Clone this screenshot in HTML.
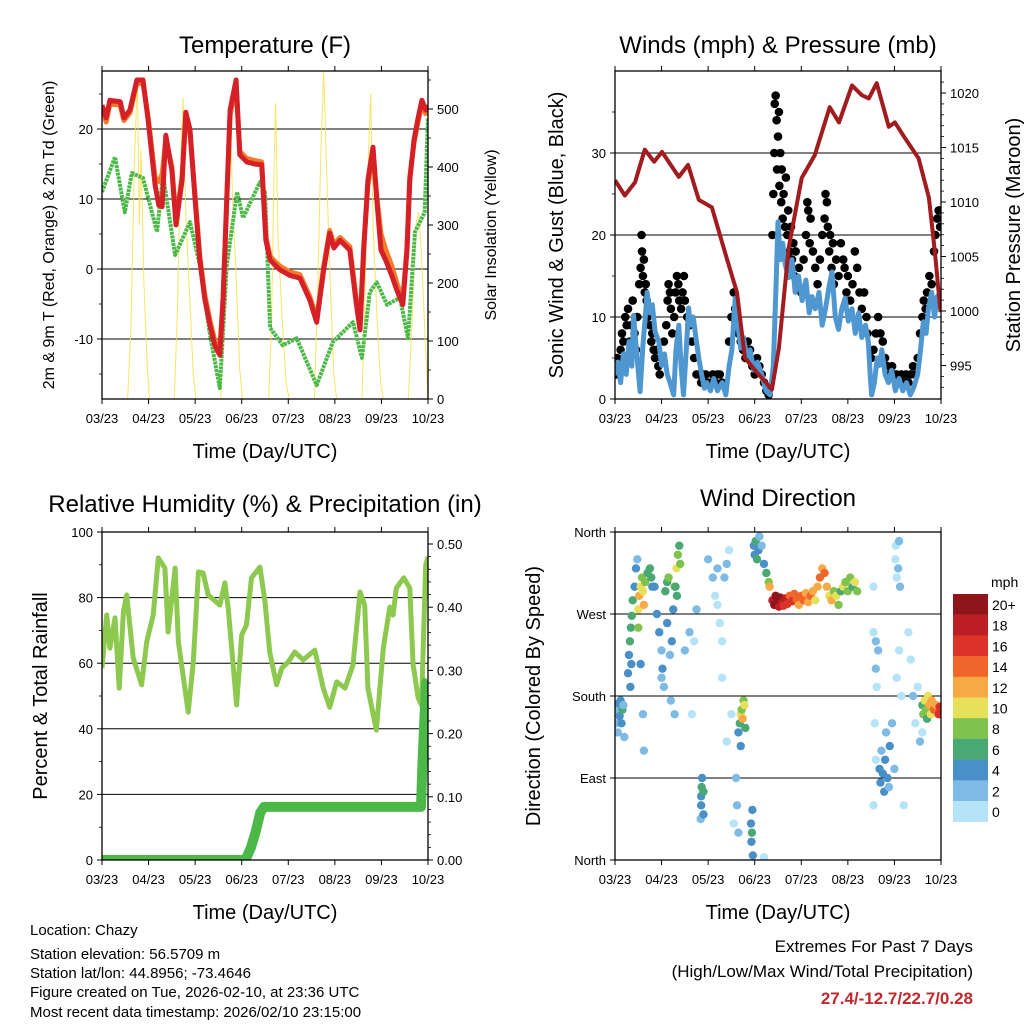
<!DOCTYPE html>
<html><head><meta charset="utf-8"><style>
html,body{margin:0;padding:0;background:#fff;}
svg{display:block;font-family:"Liberation Sans",sans-serif;}
</style></head><body>
<svg id="root" width="1024" height="1024" viewBox="0 0 1024 1024" xmlns="http://www.w3.org/2000/svg">
<rect x="0" y="0" width="1024" height="1024" fill="#fff"/>
<g font-size="24" text-anchor="middle" fill="#000">
<text x="265" y="53">Temperature (F)</text>
<text x="778" y="53">Winds (mph) &amp; Pressure (mb)</text>
<text x="265" y="512">Relative Humidity (%) &amp; Precipitation (in)</text>
<text x="778" y="506">Wind Direction</text>
</g>
<g font-size="20" text-anchor="middle" fill="#000">
<text x="265" y="458">Time (Day/UTC)</text>
<text x="778" y="458">Time (Day/UTC)</text>
<text x="265" y="919">Time (Day/UTC)</text>
<text x="778" y="919">Time (Day/UTC)</text>
<text transform="translate(54,235) rotate(-90)" font-size="16">2m &amp; 9m T (Red, Orange) &amp; 2m Td (Green)</text>
<text transform="translate(496,235) rotate(-90)" font-size="16">Solar Insolation (Yellow)</text>
<text transform="translate(563,235) rotate(-90)">Sonic Wind &amp; Gust (Blue, Black)</text>
<text transform="translate(1020,235) rotate(-90)">Station Pressure (Maroon)</text>
<text transform="translate(47,696) rotate(-90)">Percent &amp; Total Rainfall</text>
<text transform="translate(540,696) rotate(-90)">Direction (Colored By Speed)</text>
</g>
<g font-size="15" fill="#000">
<text x="30" y="935">Location: Chazy</text>
<text x="30" y="959">Station elevation: 56.5709 m</text>
<text x="30" y="978">Station lat/lon: 44.8956; -73.4646</text>
<text x="30" y="997">Figure created on Tue, 2026-02-10, at 23:36 UTC</text>
<text x="30" y="1017">Most recent data timestamp: 2026/02/10 23:15:00</text>
</g>
<g font-size="17" text-anchor="end" fill="#000">
<text x="973" y="952">Extremes For Past 7 Days</text>
<text x="973" y="977">(High/Low/Max Wind/Total Precipitation)</text>
<text x="973" y="1004" fill="#c0282d" font-weight="bold">27.4/-12.7/22.7/0.28</text>
</g>
</svg>
<script>
// ---------- DATA ----------
const xLabels = ["03/23","04/23","05/23","06/23","07/23","08/23","09/23","10/23"];
const tempT = [0,.09,.17,.39,.47,.60,.75,.88,.99,1.14,1.22,1.29,1.37,1.50,1.59,1.72,1.80,1.89,2.00,2.10,2.21,2.32,2.42,2.53,2.60,2.68,2.75,2.88,2.96,3.11,3.28,3.43,3.52,3.61,3.71,3.82,4.03,4.25,4.46,4.61,4.76,4.89,4.98,5.11,5.32,5.45,5.54,5.62,5.71,5.82,5.90,5.99,6.09,6.22,6.33,6.46,6.55,6.61,6.70,6.78,6.87,6.95,7.0];
const tempRed = [23.4,21.6,24.1,23.9,21.6,22.7,27.0,27.0,21.3,12.0,9.1,8.9,19.1,14.1,6.3,12.7,22.4,19.9,9.9,1.3,-4.4,-8.0,-10.9,-12.3,-4.4,9.9,22.7,27.0,16.3,15.3,15.0,14.9,4.1,1.3,0.6,-0.1,-0.9,-1.3,-4.4,-7.6,-0.1,5.1,3.0,4.1,2.7,-4.4,-8.7,2.7,12.7,17.4,9.9,2.7,1.3,-0.9,-3.0,-5.1,2.7,12.7,18.4,21.3,24.1,22.7,23.4];
const tempOrange = [23.0,21.0,23.6,23.4,21.2,22.3,26.5,26.5,21.8,13.0,12.5,13.5,18.5,14.6,7.0,13.3,21.8,19.3,10.5,1.8,-3.8,-7.4,-10.2,-11.6,-4.0,10.4,22.0,26.2,16.8,15.8,15.5,15.3,4.6,1.8,1.1,0.4,-0.4,-0.8,-3.9,-7.0,0.4,5.5,3.5,4.5,3.2,-3.8,-8.0,3.2,12.0,16.5,10.4,5.0,2.8,0.5,-2.0,-4.4,3.2,13.2,18.0,20.8,23.5,22.2,22.8];
const dewT = [0,.28,.49,.64,.88,1.18,1.31,1.57,1.89,2.10,2.32,2.53,2.68,2.90,3.03,3.39,3.50,3.61,3.88,4.18,4.61,4.96,5.39,5.58,5.75,5.90,6.12,6.40,6.57,6.72,6.93,7.0];
const dewV = [11.0,16.0,8.1,13.7,13.0,5.3,13.4,2.0,6.7,0.6,-9.4,-17.0,0.6,11.0,7.3,12.4,11.0,-8.4,-10.9,-9.9,-16.6,-10.4,-7.6,-12.7,-3.3,-1.9,-5.1,-4.1,-9.9,5.3,8.1,21.6];
const solarT = [0,.55,.62,.70,.76,.80,.84,.90,.97,1.02,1.55,1.62,1.68,1.74,1.80,1.88,1.96,2.02,2.55,2.62,2.70,2.75,2.80,2.88,2.96,3.02,3.58,3.64,3.70,3.73,3.78,3.86,3.95,4.02,4.56,4.63,4.70,4.76,4.82,4.90,4.98,5.04,5.58,5.64,5.72,5.77,5.82,5.90,5.98,6.04,6.58,6.65,6.74,6.80,6.86,6.93,7.0];
const solarV = [0,0,120,420,555,300,430,200,60,0,0,150,380,520,320,180,40,0,0,140,400,524,350,210,50,0,0,130,420,510,280,150,30,0,0,180,430,564,400,200,40,0,0,160,420,526,300,150,30,0,0,120,300,322,250,120,0];
const presT = [0,.21,.43,.64,.84,1.01,1.37,1.57,1.80,2.08,2.36,2.62,2.79,3.00,3.37,3.52,3.73,4.01,4.29,4.61,4.81,5.09,5.30,5.45,5.62,5.88,6.01,6.22,6.52,6.74,6.87,6.99];
const presV = [1012.0,1010.6,1011.8,1014.8,1013.7,1014.6,1012.3,1013.4,1010.2,1009.5,1005.4,1001.7,995.7,994.6,992.8,996.6,1005.8,1012.2,1014.3,1018.7,1017.3,1020.7,1019.8,1019.5,1020.9,1016.9,1017.3,1015.9,1014.0,1010.4,1005.4,999.9];
const windT = [0,.06,.12,.18,.24,.30,.36,.40,.46,.54,.60,.65,.69,.75,.80,.86,.94,1.00,1.06,1.12,1.18,1.26,1.31,1.37,1.42,1.47,1.53,1.58,1.62,1.68,1.74,1.80,1.86,1.92,1.97,2.05,2.12,2.20,2.30,2.38,2.45,2.51,2.58,2.64,2.70,2.76,2.83,2.90,2.98,3.06,3.15,3.24,3.33,3.40,3.46,3.50,3.55,3.60,3.66,3.73,3.80,3.87,3.94,4.02,4.10,4.17,4.23,4.30,4.38,4.45,4.52,4.59,4.66,4.73,4.80,4.87,4.94,5.01,5.09,5.16,5.23,5.30,5.38,5.44,5.48,5.51,5.57,5.63,5.68,5.73,5.80,5.87,5.94,6.02,6.10,6.18,6.26,6.34,6.42,6.50,6.56,6.62,6.68,6.73,6.80,6.86,6.92,6.99];
const windV = [2.9,4.5,2.0,5.5,3.0,7.0,4.0,10.2,6.0,0.9,6.5,10.0,13.0,10.5,11.5,8.2,7.0,4.1,5.5,3.0,2.0,0.5,6.0,9.0,4.0,0.5,6.0,11.1,9.0,10.0,7.4,5.0,3.0,1.3,2.0,1.0,2.5,1.0,2.0,0.5,4.0,6.0,12.3,9.0,6.2,7.5,5.0,6.0,3.5,4.5,3.0,1.0,0.5,4.0,14.0,21.6,17.0,19.0,16.3,14.8,17.0,13.0,15.0,12.0,14.5,10.5,12.5,11.0,13.0,9.0,11.0,13.5,15.5,10.0,8.5,11.0,12.3,9.5,11.0,8.0,10.5,7.5,9.0,7.0,3.0,0.5,2.0,5.0,4.1,6.0,3.0,2.0,3.5,1.0,2.5,1.0,2.0,0.5,1.5,3.0,6.0,9.4,8.0,11.0,13.0,10.0,12.5,13.0];
const gustT = [0.02,0.05,0.08,0.12,0.15,0.18,0.22,0.25,0.28,0.32,0.35,0.38,0.42,0.45,0.48,0.52,0.55,0.57,0.58,0.6,0.62,0.64,0.66,0.68,0.7,0.72,0.75,0.78,0.8,0.83,0.86,0.9,0.93,0.96,1.0,1.05,1.1,1.13,1.15,1.18,1.2,1.23,1.27,1.3,1.33,1.36,1.38,1.42,1.45,1.48,1.5,1.55,1.6,1.65,1.7,1.75,1.8,1.85,1.9,1.95,1.98,2.05,2.1,2.15,2.2,2.25,2.3,2.45,2.5,2.55,2.58,2.62,2.65,2.7,2.75,2.8,2.85,2.9,2.95,3.0,3.05,3.1,3.15,3.2,3.25,3.3,3.38,3.4,3.42,3.43,3.45,3.47,3.48,3.5,3.52,3.53,3.55,3.57,3.58,3.6,3.62,3.65,3.67,3.7,3.72,3.75,3.78,3.8,3.83,3.85,3.88,3.92,3.95,4.0,4.05,4.1,4.13,4.15,4.18,4.2,4.25,4.3,4.35,4.4,4.45,4.5,4.52,4.55,4.57,4.6,4.62,4.65,4.68,4.7,4.75,4.8,4.85,4.9,4.93,4.97,5.0,5.05,5.1,5.15,5.2,5.25,5.3,5.35,5.4,5.42,5.5,5.55,5.6,5.65,5.7,5.75,5.8,5.85,5.9,5.95,6.0,6.05,6.1,6.15,6.2,6.25,6.3,6.35,6.4,6.45,6.5,6.55,6.6,6.63,6.67,6.7,6.75,6.8,6.85,6.88,6.92,6.95,6.98];
const gustV = [3,5,4,6,8,7,10,9,11,7,9,12,8,6,10,14,16,20,18,15,17,13,14,12,10,11,9,7,8,6,5,6,4,3,5,7,9,12,14,13,11,8,10,13,15,14,12,11,13,15,12,10,9,7,5,3,3,2,3,3,2,2,3,2,3,3,2,7,10,13,11,9,8,7,6,5,7,6,4,3,5,4,3,2,1,0.5,20,25,30,36,37,34,28,32,35,26,30,24,28,22,25,21,27,20,23,18,21,17,19,15,18,14,16,13,17,20,24,23,19,22,18,16,14,17,20,22,25,24,21,18,20,16,19,14,17,15,19,17,16,13,15,12,14,18,16,13,11,13,10,8,5,6,8,10,8,7,5,4,3,4,3,3,2,3,2,3,2,3,4,3,5,8,10,12,11,13,15,14,18,20,22,23,21];
const rhT = [0,.10,.17,.28,.37,.46,.53,.67,.85,.96,1.10,1.21,1.35,1.42,1.57,1.64,1.85,1.96,2.07,2.17,2.28,2.53,2.64,2.71,2.89,3.00,3.10,3.21,3.39,3.50,3.60,3.75,3.86,4.00,4.14,4.32,4.57,4.75,4.89,5.04,5.22,5.39,5.54,5.64,5.71,5.89,6.04,6.18,6.25,6.32,6.48,6.61,6.68,6.79,6.86,6.95,7.0];
const rhV = [58.5,74.7,64.6,73.8,52.4,75.6,80.8,61.6,53.4,66.5,74.7,92.1,89.0,69.5,89.0,66.5,45.1,60.4,87.8,87.5,80.8,77.7,84.5,76.8,47.3,68.6,71.6,86.0,89.3,78.7,63.4,53.4,58.5,60.4,63.4,61.0,64.0,52.4,46.6,54.3,52.4,59.5,81.7,77.7,52.4,39.6,64.6,77.1,74.7,82.9,86.0,82.9,59.5,49.4,47.3,89.9,92.4];
const precT = [0,3.08,3.2,3.3,3.4,3.48,6.85,6.88,6.92,6.96,7.0];
const precV = [0,0,0.02,0.045,0.075,0.084,0.084,0.15,0.22,0.28,0.285];
const dirT = [0.02,0.04,0.06,0.08,0.1,0.12,0.14,0.16,0.18,0.2,0.28,0.3,0.32,0.34,0.36,0.38,0.35,0.33,0.42,0.45,0.5,0.52,0.55,0.58,0.6,0.62,0.65,0.7,0.75,0.78,0.8,0.55,0.6,0.62,0.5,0.48,0.85,0.9,0.95,1.0,1.02,1.05,1.0,1.08,1.12,1.15,1.12,1.18,1.22,1.25,1.28,1.32,1.3,1.35,1.38,1.4,1.33,1.28,1.2,1.5,1.6,1.7,1.75,1.65,1.85,1.86,1.87,1.85,1.84,1.9,1.9,2.0,2.1,2.15,2.2,2.25,2.3,2.35,2.4,2.45,2.2,2.3,2.5,2.4,2.55,2.6,2.65,2.68,2.7,2.72,2.74,2.76,2.78,2.8,2.7,2.62,2.65,2.92,2.93,2.94,2.95,2.96,2.98,3.0,3.02,3.05,3.08,3.1,3.15,3.2,3.25,3.3,3.32,3.2,3.38,3.42,3.45,3.48,3.52,3.55,3.58,3.62,3.65,3.7,3.75,3.8,3.85,3.9,3.95,4.0,4.05,4.1,4.15,4.2,4.25,4.3,4.35,4.4,4.45,4.5,4.55,4.6,4.65,4.7,4.75,4.8,4.85,4.9,4.95,5.0,5.05,5.1,5.15,5.2,5.55,5.55,5.6,5.62,5.6,5.65,5.58,5.6,5.55,5.68,5.7,5.72,5.75,5.78,5.8,5.82,5.85,5.88,5.9,5.95,6.0,6.02,6.03,6.05,6.08,6.1,6.12,6.05,6.1,6.15,6.2,6.3,6.35,6.4,6.45,6.5,6.55,6.6,6.62,6.65,6.68,6.7,6.72,6.75,6.78,6.8,6.85,6.9,6.95,6.97,6.6];
const dirV = [150,165,140,172,158,175,150,165,170,135,205,225,240,255,268,285,215,190,300,320,275,290,300,310,295,280,305,315,320,310,300,215,160,120,255,330,300,270,250,230,210,190,200,295,305,310,260,225,240,275,300,320,300,335,345,325,290,160,175,230,250,240,275,160,70,80,90,60,45,50,75,330,310,290,280,260,240,310,325,340,320,200,160,130,40,90,140,150,160,165,155,175,170,145,125,60,30,40,20,30,55,5,345,335,350,330,340,355,345,325,315,305,300,3,285,280,290,283,278,288,282,279,287,281,290,284,292,286,280,290,285,293,283,290,295,285,300,310,320,315,300,290,285,295,290,280,295,300,305,295,310,300,305,295,250,300,210,190,240,230,150,110,60,100,85,120,95,75,110,140,90,80,125,150,100,330,345,310,320,350,300,200,230,180,60,250,220,180,150,190,130,170,160,175,165,155,180,170,160,175,165,170,160,168,140];
const dirS = [3,2,3,4,4,5,4,6,3,2,5,4,6,7,6,7,4,4,5,4,10,12,11,9,10,13,8,7,6,7,5,4,3,2,9,2,4,4,4,3,4,3,2,7,6,8,4,3,4,5,9,10,7,8,6,9,6,3,2,3,2,1,2,1,5,6,4,4,3,4,6,2,2,1,0,1,1,2,2,1,3,1,1,1,1,2,5,7,10,9,12,8,10,7,5,3,2,5,4,6,4,4,4,5,6,6,5,2,2,5,6,9,12,1,18,20,21,20,19,20,18,17,19,16,15,16,15,14,13,15,14,13,12,14,12,11,13,14,12,15,13,11,12,9,10,8,7,10,9,8,9,7,10,8,1,1,2,1,3,2,1,1,1,4,4,3,5,4,4,3,4,3,4,3,2,1,1,1,2,2,2,1,1,1,1,1,1,2,1,1,2,6,8,10,9,7,11,12,10,13,14,12,16,17,1];
const cbLabels = ["20+","18","16","14","12","10","8","6","4","2","0"];
const cbColors = ["#8e1519","#bb1e24","#dc3328","#f06529","#f7a945","#e6e05a","#7fc24e","#4aa874","#4a90c8","#7dbbe5","#b5e3f7"];

// ---------- HELPERS ----------
const NS = "http://www.w3.org/2000/svg";
const root = document.getElementById("root");
function mk(tag, attrs, parent) {
  const e = document.createElementNS(NS, tag);
  for (const k in attrs) e.setAttribute(k, attrs[k]);
  (parent || root).appendChild(e);
  return e;
}
const DW = 46.57;
function xsL(d){ return 102 + d*DW; }
function xsR(d){ return 615 + d*DW; }
const yTemp = v => 269 - 7*v;
const ySolar = v => 399 - 0.58*v;
const yWind = v => 399 - 8.2*v;
const yPres = p => 311 - 10.9*(p-1000);
const yRh = v => 860 - 3.28*v;
const yPrec = v => 860 - 632*v;
const yDir = v => 860 - v*328/360;

function pts(ts, vs, xs, ys){ return ts.map((t,i)=>xs(t).toFixed(1)+","+ys(vs[i]).toFixed(1)).join(" "); }

function panel(name, x0, y0, xs) {
  const g = mk("g", {});
  
  
  const clip = mk("clipPath", {id: name+"-clip"}, g);
  mk("rect", {x:x0, y:y0, width:326, height:328}, clip);
  xLabels.forEach((lab,i)=>{
    const x = xs(i);
    mk("line",{x1:x,y1:y0+328,x2:x,y2:y0+333,stroke:"#000","stroke-width":1},g);
    mk("line",{x1:x,y1:y0,x2:x,y2:y0-5,stroke:"#000","stroke-width":1},g);
    const t = mk("text",{x:x,y:y0+352,"font-size":13,"text-anchor":"middle"},g);
    t.textContent = lab;
    
    
  });
  return g;
}
function frame(g, x0, y0){
  const r = mk("rect",{x:x0,y:y0,width:326,height:328,fill:"none",stroke:"#000","stroke-width":1.3},g);
  
  
}
function yTicks(g, vals, yf, x, side, fmt, grid, x0) {
  vals.forEach(v=>{
    const y = yf(v);
    const dx = side==="left" ? -5 : 5;
    mk("line",{x1:x,y1:y,x2:x+dx,y2:y,stroke:"#000","stroke-width":1},g);
    if (grid) mk("line",{x1:x0,y1:y,x2:x0+326,y2:y,stroke:"#000","stroke-width":1},g);
    const t = mk("text",{x: side==="left"? x-9 : x+9, y:y+5, "font-size":13, "text-anchor": side==="left"?"end":"start"},g);
    t.textContent = fmt(v);
    
    
  });
}
function minor(g, vals, yf, x, side){
  vals.forEach(v=>{ const y=yf(v); mk("line",{x1:x,y1:y,x2:x+(side==="left"?-3:3),y2:y,stroke:"#000","stroke-width":0.8},g); });
}

// ---------- PANEL 1: TEMPERATURE ----------
(function(){
  const g = panel("temperature-panel", 102, 71, xsL);
  yTicks(g, [-10,0,10,20], yTemp, 102, "left", v=>v, true, 102);
  minor(g, [-15,-5,5,15,25], yTemp, 102, "left");
  yTicks(g, [0,100,200,300,400,500], ySolar, 428, "right", v=>v, false, 102);
  minor(g, [50,150,250,350,450,550], ySolar, 428, "right");
  const c = mk("g",{"clip-path":"url(#temperature-panel-clip)"},g);
  const sol = mk("polyline",{points:pts(solarT,solarV,xsL,ySolar),fill:"none",stroke:"#f7e04a","stroke-width":1,opacity:0.85},c);
  
  
  const dew = mk("polyline",{points:pts(dewT,dewV,xsL,yTemp),fill:"none",stroke:"#4cb848","stroke-width":4,"stroke-dasharray":"3 0.8","stroke-linejoin":"round"},c);
  
  
  const or = mk("polyline",{points:pts(tempT,tempOrange,xsL,yTemp),fill:"none",stroke:"#f37b2a","stroke-width":5,"stroke-linejoin":"round"},c);
  
  
  const red = mk("polyline",{points:pts(tempT,tempRed,xsL,yTemp),fill:"none",stroke:"#d62027","stroke-width":5,"stroke-linejoin":"round"},c);
  
  
  frame(g,102,71);
})();

// ---------- PANEL 2: WINDS ----------
(function(){
  const g = panel("winds-panel", 615, 71, xsR);
  yTicks(g, [0,10,20,30], yWind, 615, "left", v=>v, true, 615);
  minor(g, [5,15,25,35], yWind, 615, "left");
  yTicks(g, [995,1000,1005,1010,1015,1020], yPres, 941, "right", v=>v, false, 615);
  minor(g, [993,994,996,997,998,999,1001,1002,1003,1004,1006,1007,1008,1009,1011,1012,1013,1014,1016,1017,1018,1019,1021], yPres, 941, "right");
  const c = mk("g",{"clip-path":"url(#winds-panel-clip)"},g);
  gustT.forEach((t,i)=>{
    const d = mk("circle",{cx:xsR(t),cy:yWind(gustV[i]),r:4.3,fill:"#000"},c);
    
    
  });
  const w = mk("polyline",{points:pts(windT,windV,xsR,yWind),fill:"none",stroke:"#4e97d1","stroke-width":5,"stroke-linejoin":"round"},c);
  
  
  const p = mk("polyline",{points:pts(presT,presV,xsR,yPres),fill:"none",stroke:"#a11b1f","stroke-width":4,"stroke-linejoin":"round"},c);
  
  
  frame(g,615,71);
})();

// ---------- PANEL 3: RH & PRECIP ----------
(function(){
  const g = panel("humidity-panel", 102, 532, xsL);
  yTicks(g, [0,20,40,60,80,100], yRh, 102, "left", v=>v, false, 102);
  [20,40,60,80].forEach(v=>mk("line",{x1:102,y1:yRh(v),x2:428,y2:yRh(v),stroke:"#000","stroke-width":1},g));
  minor(g, [10,30,50,70,90], yRh, 102, "left");
  yTicks(g, [0,0.1,0.2,0.3,0.4,0.5], yPrec, 428, "right", v=>v.toFixed(2), false, 102);
  minor(g, [0.02,0.04,0.06,0.08,0.12,0.14,0.16,0.18,0.22,0.24,0.26,0.28,0.32,0.34,0.36,0.38,0.42,0.44,0.46,0.48], yPrec, 428, "right");
  const c = mk("g",{"clip-path":"url(#humidity-panel-clip)"},g);
  const rh = mk("polyline",{points:pts(rhT,rhV,xsL,yRh),fill:"none",stroke:"#8dc94e","stroke-width":5,"stroke-linejoin":"round"},c);
  
  
  const pr = mk("polyline",{points:pts(precT,precV,xsL,yPrec),fill:"none",stroke:"#4cb848","stroke-width":10,"stroke-linejoin":"round"},c);
  
  
  frame(g,102,532);
})();

// ---------- PANEL 4: WIND DIRECTION ----------
(function(){
  const g = panel("direction-panel", 615, 532, xsR);
  yTicks(g, [0,90,180,270,360], yDir, 615, "left", v=>({0:"North",90:"East",180:"South",270:"West",360:"North"})[v], false, 615);
  [90,180,270].forEach(v=>mk("line",{x1:615,y1:yDir(v),x2:941,y2:yDir(v),stroke:"#000","stroke-width":1},g));
  const c = mk("g",{"clip-path":"url(#direction-panel-clip)"},g);
  dirT.forEach((t,i)=>{
    const bin = Math.min(10, Math.floor(dirS[i]/2));
    const d = mk("circle",{cx:xsR(t),cy:yDir(dirV[i]),r:4.2,fill:cbColors[10-bin]},c);
    
    
  });
  frame(g,615,532);
  const cb = mk("g",{});
  
  
  const t0 = mk("text",{x:991,y:587,"font-size":14},cb);
  t0.textContent = "mph";
  cbLabels.forEach((lab,i)=>{
    const y = 594 + i*20.7;
    const r = mk("rect",{x:953,y:y,width:35,height:20.9,fill:cbColors[i]},cb);
    
    
    const t = mk("text",{x:992,y:y+16,"font-size":14},cb);
    t.textContent = lab;
    
    
  });
})();
</script>
</body></html>
